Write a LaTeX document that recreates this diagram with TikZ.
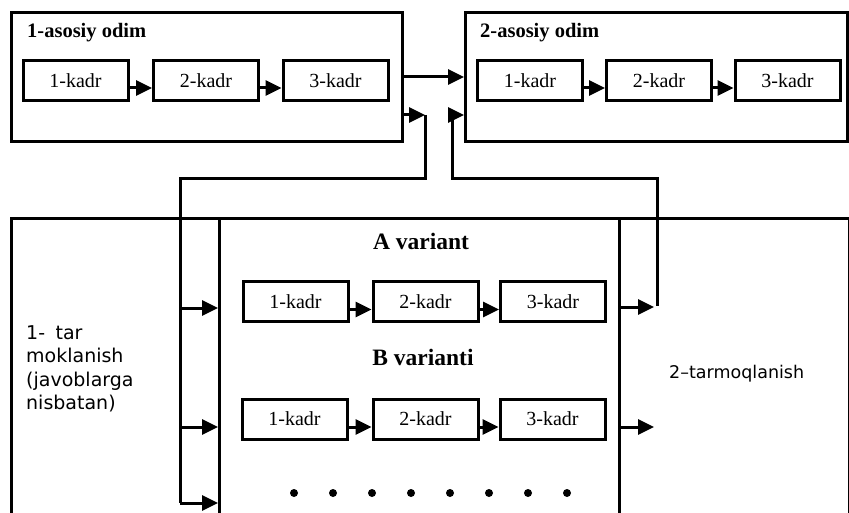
\documentclass[tikz,border=0pt]{standalone}
\usepackage{fontspec}
\setmainfont{Liberation Serif}
\newfontfamily\sansf{DejaVu Sans}
\usetikzlibrary{arrows.meta}
\begin{document}
\begin{tikzpicture}[x=1pt,y=-1pt,
  ln/.style={line width=3pt},
  arr/.style={ln,-{Triangle[length=16pt,width=15pt]}},
  kadr/.style={draw,ln,minimum width=105pt,minimum height=40pt,inner sep=0pt,font=\fontsize{20}{20}\selectfont},
  frame/.style={draw,ln,inner sep=0pt,anchor=north west},
  ttl/.style={font=\bfseries\fontsize{20.5}{22}\selectfont,anchor=base west,inner sep=0pt},
  vtitle/.style={font=\bfseries\fontsize{23.5}{24}\selectfont,anchor=base,inner sep=0pt},
  sanstext/.style={font=\sansf\fontsize{19}{23.5}\selectfont,inner sep=0pt,align=left},
  righttext/.style={font=\sansf\fontsize{17.5}{20}\selectfont,inner sep=0pt},
  dotm/.style={fill=black}]
\useasboundingbox (0,0) rectangle (849,513);
\fill[white] (0,0) rectangle (849,513);
\clip (0,0) rectangle (849,513);

% top frames
\node[frame,minimum width=391pt,minimum height=129pt] (odim1) at (10,11) {};
\node[frame,minimum width=382pt,minimum height=129pt] (odim2) at (464,11) {};
\node[ttl] (t1) at (27,38) {1-asosiy odim};
\node[ttl] (t2) at (480,38) {2-asosiy odim};

\node[kadr] (a1) at (75.5,81) {1-kadr};
\node[kadr] (a2) at (206,81) {2-kadr};
\node[kadr] (a3) at (335.5,81) {3-kadr};
\node[kadr] (b1) at (530,81) {1-kadr};
\node[kadr] (b2) at (659,81) {2-kadr};
\node[kadr] (b3) at (787.5,81) {3-kadr};
\draw[arr] ([yshift=-7pt]a1.east) -- ([yshift=-7pt]a2.west);
\draw[arr] ([yshift=-7pt]a2.east) -- ([yshift=-7pt]a3.west);
\draw[arr] ([yshift=-7pt]b1.east) -- ([yshift=-7pt]b2.west);
\draw[arr] ([yshift=-7pt]b2.east) -- ([yshift=-7pt]b3.west);

% bottom frames
\node[frame,minimum width=838pt,minimum height=330pt] (big) at (10,217) {};
\node[frame,minimum width=400pt,minimum height=330pt] (inner) at (218,217) {};

\node[vtitle] (va) at (421,250) {A variant};
\node[vtitle] (vb) at (423,365) {B varianti};

\node[kadr] (c1) at (295.5,301.5) {1-kadr};
\node[kadr] (c2) at (425.5,301.5) {2-kadr};
\node[kadr] (c3) at (553,301.5) {3-kadr};
\node[kadr] (d1) at (294.5,419) {1-kadr};
\node[kadr] (d2) at (425.5,419) {2-kadr};
\node[kadr] (d3) at (552.5,419) {3-kadr};
\draw[arr] ([yshift=-8pt]c1.east) -- ([yshift=-8pt]c2.west);
\draw[arr] ([yshift=-8pt]c2.east) -- ([yshift=-8pt]c3.west);
\draw[arr] ([yshift=-8pt]d1.east) -- ([yshift=-8pt]d2.west);
\draw[arr] ([yshift=-8pt]d2.east) -- ([yshift=-8pt]d3.west);

\foreach \i in {0,...,7} \fill[dotm] (294+39*\i,493) circle (4pt);

\node[sanstext,anchor=north west] (lt) at (26,325) {1-\hspace{0.55em}tar\\moklanish\\(javoblarga\\nisbatan)};
\node[righttext,anchor=base west] (rt) at (669,378) {2–tarmoqlanish};

% connectors
\coordinate (p1) at (425,115);
\coordinate (bus) at (180,179);
\coordinate (r1) at (180,308);
\coordinate (r2) at (180,427);
\coordinate (r3) at (180,503);
\draw[arr] (odim1.east) -- (odim2.west);
\draw[arr] (odim1.east |- p1) -- (p1);
\draw[ln] (p1) -- (p1 |- bus) -- (bus) -- (r3);
\draw[arr] (r1) -- (inner.west |- r1);
\draw[arr] (r2) -- (inner.west |- r2);
\draw[arr] (r3) -- (inner.west |- r3);

\coordinate (q1) at (657,307);
\coordinate (q2) at (452,179);
\coordinate (q3) at (452,115);
\coordinate (q4) at (657,427);
\draw[arr] (inner.east |- q1) -- ([xshift=-3pt]q1);
\draw[arr] ([yshift=1.5pt]q1) -- (q1 |- q2) -- (q2) -- (q3) -- (odim2.west |- q3);
\draw[arr] (inner.east |- q4) -- ([xshift=-3pt]q4);
\end{tikzpicture}
\end{document}
